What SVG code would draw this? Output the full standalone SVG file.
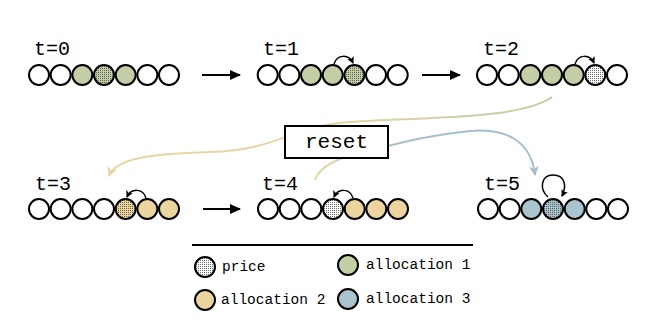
<svg xmlns="http://www.w3.org/2000/svg" width="668" height="330" viewBox="0 0 668 330">
<style>
.c{stroke:#000;stroke-width:2}
.w{fill:#fff}
.g{fill:#c3cea6}
.t{fill:#ecd49e}
.b{fill:#a9c3cf}
.p{fill:url(#grid)}
.lbl{font-family:"Liberation Mono","DejaVu Sans Mono",monospace;font-size:20px;fill:#000}
.leg{font-family:"Liberation Mono","DejaVu Sans Mono",monospace;font-size:14.5px;fill:#000}
.arc{fill:none;stroke:#000;stroke-width:1.5}
.step{fill:none;stroke:#000;stroke-width:2}
</style>
<defs>
<pattern id="grid" width="2" height="2" patternUnits="userSpaceOnUse"><rect width="1" height="1" fill="#3a3a3a" fill-opacity="0.75"/></pattern>
<marker id="ah" markerWidth="12" markerHeight="10" refX="10" refY="5" orient="auto" markerUnits="userSpaceOnUse"><path d="M0,0 L11,5 L0,10 z" fill="#000"/></marker>
<marker id="sa" markerWidth="8" markerHeight="8" refX="6" refY="4" orient="auto" markerUnits="userSpaceOnUse"><path d="M0,0.5 L7,4 L0,7.5 L1.5,4 z" fill="#000"/></marker>
<marker id="tanh" markerWidth="12" markerHeight="12" refX="9" refY="5" orient="auto" markerUnits="userSpaceOnUse"><path d="M0,0 L10,5 L0,10 L3,5 z" fill="#e6d6a6"/></marker>
<marker id="blueh" markerWidth="12" markerHeight="12" refX="9" refY="5" orient="auto" markerUnits="userSpaceOnUse"><path d="M0,0 L10,5 L0,10 L3,5 z" fill="#a6c0cb"/></marker>
<linearGradient id="gt" gradientUnits="userSpaceOnUse" x1="552" y1="0" x2="300" y2="0"><stop offset="0" stop-color="#c7caa6"/><stop offset="1" stop-color="#e6d6a6"/></linearGradient>
<linearGradient id="tb" gradientUnits="userSpaceOnUse" x1="320" y1="0" x2="400" y2="0"><stop offset="0" stop-color="#e6d6a6"/><stop offset="1" stop-color="#a6c0cb"/></linearGradient>
</defs>

<g id="connectors">
<line class="step" x1="202" y1="75" x2="240" y2="75" marker-end="url(#ah)"/>
<line class="step" x1="422" y1="75" x2="460" y2="75" marker-end="url(#ah)"/>
<line class="step" x1="203" y1="209" x2="240" y2="209" marker-end="url(#ah)"/>
<path d="M552,97 C520,120 420,117 350,122 C290,126 280,150 210,152 C150,154 116,158 109,176" fill="none" stroke="url(#gt)" stroke-width="2" marker-end="url(#tanh)"/>
<path d="M315,180 C320,165 340,158 360,153 C390,146 420,136 470,131 C505,128 531,140 535,175" fill="none" stroke="url(#tb)" stroke-width="2" marker-end="url(#blueh)"/>
</g>

<g id="t0">
<text class="lbl" x="34" y="55">t=0</text>
<circle class="c w" cx="39" cy="75" r="10"/>
<circle class="c w" cx="60.67" cy="75" r="10"/>
<circle class="c g" cx="82.33" cy="75" r="10"/>
<circle class="g" cx="104" cy="75" r="10"/><circle class="c p" cx="104" cy="75" r="10"/>
<circle class="c g" cx="125.67" cy="75" r="10"/>
<circle class="c w" cx="147.33" cy="75" r="10"/>
<circle class="c w" cx="169" cy="75" r="10"/>
</g>

<g id="t1">
<text class="lbl" x="263" y="55">t=1</text>
<circle class="c w" cx="267.7" cy="75" r="10"/>
<circle class="c w" cx="289.4" cy="75" r="10"/>
<circle class="c g" cx="311" cy="75" r="10"/>
<circle class="c g" cx="332.7" cy="75" r="10"/>
<circle class="g" cx="354.4" cy="75" r="10"/><circle class="c p" cx="354.4" cy="75" r="10"/>
<circle class="c w" cx="376" cy="75" r="10"/>
<circle class="c w" cx="397.7" cy="75" r="10"/>
<path class="arc" d="M334,64 C337,54 349,54 353,63" marker-end="url(#sa)"/>
</g>

<g id="t2">
<text class="lbl" x="483" y="55">t=2</text>
<circle class="c w" cx="487" cy="75" r="10"/>
<circle class="c w" cx="508.7" cy="75" r="10"/>
<circle class="c g" cx="530.3" cy="75" r="10"/>
<circle class="c g" cx="552" cy="75" r="10"/>
<circle class="c g" cx="573.7" cy="75" r="10"/>
<circle class="w" cx="595.3" cy="75" r="10"/><circle class="c p" cx="595.3" cy="75" r="10"/>
<circle class="c w" cx="617" cy="75" r="10"/>
<path class="arc" d="M575,64 C578,54 590,54 594,63" marker-end="url(#sa)"/>
</g>

<g id="t3">
<text class="lbl" x="35" y="190">t=3</text>
<circle class="c w" cx="39" cy="209" r="10"/>
<circle class="c w" cx="60.67" cy="209" r="10"/>
<circle class="c w" cx="82.33" cy="209" r="10"/>
<circle class="c w" cx="104" cy="209" r="10"/>
<circle class="t" cx="125.67" cy="209" r="10"/><circle class="c p" cx="125.67" cy="209" r="10"/>
<circle class="c t" cx="147.33" cy="209" r="10"/>
<circle class="c t" cx="169" cy="209" r="10"/>
<path class="arc" d="M146,198 C143,188 131,188 127,197" marker-end="url(#sa)"/>
</g>

<g id="t4">
<text class="lbl" x="262" y="190">t=4</text>
<circle class="c w" cx="268" cy="209" r="10"/>
<circle class="c w" cx="289.7" cy="209" r="10"/>
<circle class="c w" cx="311.3" cy="209" r="10"/>
<circle class="w" cx="333" cy="209" r="10"/><circle class="c p" cx="333" cy="209" r="10"/>
<circle class="c t" cx="354.7" cy="209" r="10"/>
<circle class="c t" cx="376.3" cy="209" r="10"/>
<circle class="c t" cx="398" cy="209" r="10"/>
<path class="arc" d="M353,198 C350,188 338,188 334,197" marker-end="url(#sa)"/>
</g>

<g id="t5">
<text class="lbl" x="484" y="190">t=5</text>
<circle class="c w" cx="488" cy="209" r="10"/>
<circle class="c w" cx="509.7" cy="209" r="10"/>
<circle class="c b" cx="531.3" cy="209" r="10"/>
<circle class="b" cx="553" cy="209" r="10"/><circle class="c p" cx="553" cy="209" r="10"/>
<circle class="c b" cx="574.7" cy="209" r="10"/>
<circle class="c w" cx="596.3" cy="209" r="10"/>
<circle class="c w" cx="618" cy="209" r="10"/>
<path class="arc" d="M548,197 C539,189 541,175 553,175 C565,175 567,186 562,196" marker-end="url(#sa)"/>
</g>

<g id="reset">
<rect x="285" y="126" width="103" height="32" fill="#fff" stroke="#000" stroke-width="2"/>
<text class="lbl" x="336.5" y="148" text-anchor="middle" style="font-size:21px">reset</text>
</g>

<g id="legend">
<line x1="192" y1="245" x2="473" y2="245" stroke="#000" stroke-width="2"/>
<circle class="w" cx="205" cy="267" r="10"/><circle class="c p" cx="205" cy="267" r="10"/>
<text class="leg" x="222" y="271">price</text>
<circle class="c g" cx="348" cy="265" r="10"/>
<text class="leg" x="366" y="269">allocation 1</text>
<circle class="c t" cx="205" cy="300" r="10"/>
<text class="leg" x="221" y="304">allocation 2</text>
<circle class="c b" cx="348" cy="299" r="10"/>
<text class="leg" x="366" y="303">allocation 3</text>
</g>
</svg>
